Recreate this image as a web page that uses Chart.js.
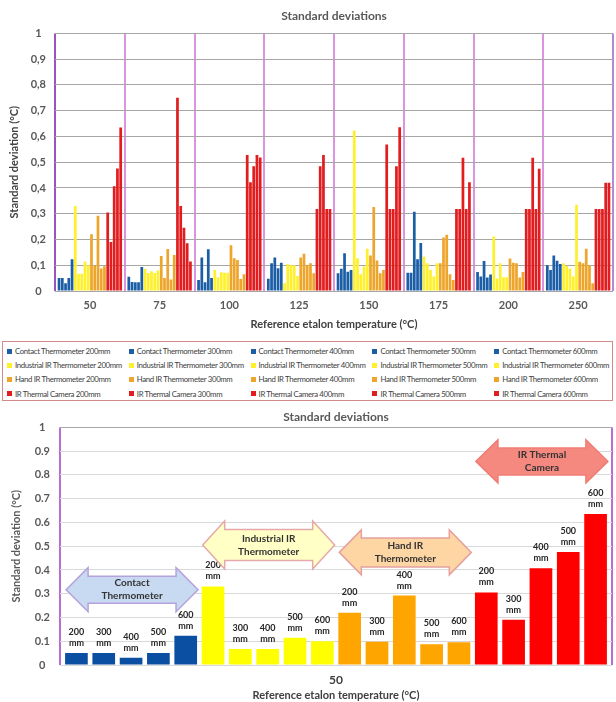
<!DOCTYPE html>
<html>
<head>
<meta charset="utf-8">
<script src="https://cdn.jsdelivr.net/npm/chart.js@4"></script>
<style>
  html, body { margin:0; padding:0; background:#fff; width:616px; height:702px; overflow:hidden; }
  #top { position:absolute; left:0; top:0; }
  #bottom { position:absolute; left:0; top:405px; }
  #legend { position:absolute; left:2px; top:341px; width:611px; height:60px; border:1px solid #d48a8a;
            box-sizing:border-box; padding-top:2px; font-family:Lato, sans-serif; font-size:7.8px;
            letter-spacing:-0.35px; color:#404040; }
  .row { display:flex; height:14.2px; align-items:center; }
  .item { width:123px; padding-left:4px; white-space:nowrap; overflow:visible; box-sizing:border-box; }
  .sw { display:inline-block; width:5px; height:5px; margin-right:3px; vertical-align:middle; position:relative; top:-1px; }
</style>
</head>
<body>
<canvas id="top" width="616" height="336"></canvas>
<div id="legend"></div>
<canvas id="bottom" width="616" height="297"></canvas>
<script>
// ---------- DATA ----------
const categories = ['50', '75', '100', '125', '150', '175', '200', '250'];
const distances = ['200mm', '300mm', '400mm', '500mm', '600mm'];
const instruments = ['Contact Thermometer', 'Industrial IR Thermometer', 'Hand IR Thermometer', 'IR Thermal Camera'];

// rows: 200mm, 300mm, 400mm, 500mm, 600mm ; columns: categories
const contactThermometer = [
  [0.05, 0.055, 0.043, 0.048, 0.069, 0.071, 0.074, 0.10],
  [0.05, 0.035, 0.13, 0.108, 0.086, 0.071, 0.056, 0.082],
  [0.03, 0.034, 0.034, 0.13, 0.147, 0.308, 0.116, 0.138],
  [0.05, 0.034, 0.162, 0.088, 0.075, 0.123, 0.052, 0.117],
  [0.123, 0.093, 0.05, 0.11, 0.082, 0.186, 0.064, 0.105]
];
const industrialIR = [
  [0.33, 0.086, 0.082, 0.03, 0.623, 0.134, 0.212, 0.108],
  [0.067, 0.07, 0.053, 0.105, 0.127, 0.108, 0.049, 0.098],
  [0.067, 0.077, 0.073, 0.10, 0.065, 0.082, 0.108, 0.086],
  [0.115, 0.07, 0.071, 0.10, 0.095, 0.056, 0.053, 0.056],
  [0.10, 0.08, 0.071, 0.058, 0.164, 0.108, 0.053, 0.335]
];
const handIR = [
  [0.22, 0.136, 0.178, 0.13, 0.138, 0.108, 0.126, 0.114],
  [0.098, 0.05, 0.127, 0.145, 0.326, 0.208, 0.11, 0.108],
  [0.292, 0.163, 0.12, 0.10, 0.118, 0.218, 0.108, 0.164],
  [0.087, 0.045, 0.047, 0.108, 0.069, 0.065, 0.052, 0.10],
  [0.096, 0.14, 0.065, 0.069, 0.082, 0.043, 0.074, 0.03]
];
const irThermalCamera = [
  [0.305, 0.75, 0.528, 0.318, 0.569, 0.318, 0.318, 0.318],
  [0.19, 0.33, 0.422, 0.484, 0.318, 0.318, 0.318, 0.318],
  [0.407, 0.246, 0.484, 0.528, 0.318, 0.517, 0.517, 0.318],
  [0.476, 0.185, 0.528, 0.318, 0.484, 0.318, 0.318, 0.42],
  [0.635, 0.115, 0.518, 0.318, 0.636, 0.422, 0.475, 0.42]
];
const groupNames = ['Contact\nThermometer', 'Industrial IR\nThermometer', 'Hand IR\nThermometer', 'IR Thermal\nCamera'];

// ---------- STYLE ----------
const FONT = 'Lato, "Open Sans", sans-serif';
const topColors = ['#1b5ea6', '#fff02e', '#eda52c', '#e11d1f'];
const bottomColors = ['#0b4fa3', '#ffff00', '#ffa500', '#ff0000'];
const seriesByInstrument = [contactThermometer, industrialIR, handIR, irThermalCamera];

// legend (HTML, from the series names)
const legendEl = document.getElementById('legend');
instruments.forEach((name, g) => {
  const row = document.createElement('div'); row.className = 'row';
  distances.forEach(d => {
    const it = document.createElement('div'); it.className = 'item';
    it.innerHTML = '<span class="sw" style="background:' + topColors[g] + '"></span>' + name + ' ' + d;
    row.appendChild(it);
  });
  legendEl.appendChild(row);
});

const titleToPlot = {
  id: 'titleToPlot',
  afterLayout(chart) {
    if (chart.titleBlock) {
      chart.titleBlock.left = chart.chartArea.left;
      chart.titleBlock.right = chart.chartArea.right;
    }
  }
};

// ---------- TOP CHART ----------
const topDatasets = [];
instruments.forEach((name, g) => distances.forEach((d, k) => {
  topDatasets.push({ label: name + ' ' + d, data: seriesByInstrument[g][k], backgroundColor: topColors[g], borderWidth: 0 });
}));

new Chart(document.getElementById('top'), {
  type: 'bar',
  data: { labels: categories, datasets: topDatasets },
  plugins: [titleToPlot],
  options: {
    responsive: false, animation: false,
    layout: { padding: { left: 0, right: 3, top: 0, bottom: 0 } },
    datasets: { bar: { categoryPercentage: 0.93, barPercentage: 0.84 } },
    plugins: {
      legend: { display: false }, tooltip: { enabled: false },
      title: { display: true, text: 'Standard deviations', color: '#595959',
               font: { family: FONT, size: 12, weight: 'bold' }, padding: { top: 9, bottom: 10 } }
    },
    scales: {
      x: {
        grid: { offset: true, drawTicks: false, lineWidth: 2,
                color: ctx => ctx.tick === undefined ? '#b48ad6' : (ctx.index === 0 ? '#9b52c2' : '#dc93e0') },
        border: { display: false },
        ticks: { color: '#595959', font: { family: FONT, size: 11, weight: 'bold' }, padding: 8 },
        title: { display: true, text: 'Reference etalon temperature (°C)', color: '#404040',
                 font: { family: FONT, size: 11, weight: 'bold' }, padding: { top: 0, bottom: 5 } },
        afterFit: s => { s.height = 45; }
      },
      y: {
        min: 0, max: 1,
        grid: { color: '#a6a6a6', drawTicks: false, lineWidth: 1 },
        border: { display: false },
        ticks: { stepSize: 0.1, crossAlign: 'center', padding: 9, color: '#595959',
                 font: { family: FONT, size: 11, weight: 'bold' },
                 callback: v => (v === 0 ? '0' : v === 1 ? '1' : v.toFixed(1).replace('.', ',')) },
        title: { display: true, text: 'Standard deviation (°C)', color: '#404040',
                 font: { family: FONT, size: 11, weight: 'bold' }, padding: { top: 8, bottom: 0 } },
        afterFit: s => { s.width = 55; }
      }
    }
  }
});

// ---------- BOTTOM CHART ----------
const bottomDatasets = [];
instruments.forEach((name, g) => distances.forEach((d, k) => {
  bottomDatasets.push({ label: name + ' ' + d, data: [seriesByInstrument[g][k][0]], backgroundColor: bottomColors[g],
                        borderWidth: 0, distance: d, group: g });
}));

const arrowStyles = [
  { yValue: 0.317, fill: '#c8daf1', stroke: '#b5a2da', headH: 44, shaftH: 27 },
  { yValue: 0.505, fill: '#ffffc6', stroke: '#e6a9a9', headH: 48, shaftH: 31 },
  { yValue: 0.474, fill: '#fdd6a4', stroke: '#e6a0a0', headH: 45, shaftH: 29 },
  { yValue: 0.857, fill: '#f58980', stroke: '#f07d74', headH: 43, shaftH: 27 }
];

const barLabels = {
  id: 'barLabels',
  afterDatasetsDraw(chart) {
    const ctx = chart.ctx;
    ctx.save();
    ctx.fillStyle = '#262626';
    ctx.font = 'bold 9px ' + FONT;
    ctx.textAlign = 'center';
    ctx.textBaseline = 'middle';
    chart.data.datasets.forEach((ds, i) => {
      const bar = chart.getDatasetMeta(i).data[0];
      const num = ds.distance.replace('mm', '');
      ctx.fillText(num, bar.x, bar.y - 21);
      ctx.fillText('mm', bar.x, bar.y - 10);
    });
    ctx.restore();
  }
};

const groupArrows = {
  id: 'groupArrows',
  afterDatasetsDraw(chart) {
    const ctx = chart.ctx;
    const y = chart.scales.y;
    arrowStyles.forEach((st, g) => {
      const first = chart.getDatasetMeta(g * 5).data[0];
      const last = chart.getDatasetMeta(g * 5 + 4).data[0];
      const x1 = first.x - first.width / 2 + 1;
      const x2 = last.x + last.width / 2 + 1;
      const yc = y.getPixelForValue(st.yValue);
      const hl = 22, hh = st.headH / 2, sh = st.shaftH / 2;
      ctx.save();
      ctx.beginPath();
      ctx.moveTo(x1, yc);
      ctx.lineTo(x1 + hl, yc - hh);
      ctx.lineTo(x1 + hl, yc - sh);
      ctx.lineTo(x2 - hl, yc - sh);
      ctx.lineTo(x2 - hl, yc - hh);
      ctx.lineTo(x2, yc);
      ctx.lineTo(x2 - hl, yc + hh);
      ctx.lineTo(x2 - hl, yc + sh);
      ctx.lineTo(x1 + hl, yc + sh);
      ctx.lineTo(x1 + hl, yc + hh);
      ctx.closePath();
      ctx.fillStyle = st.fill;
      ctx.fill();
      ctx.lineWidth = 1.5;
      ctx.strokeStyle = st.stroke;
      ctx.stroke();
      ctx.fillStyle = '#333333';
      ctx.font = 'bold 10px ' + FONT;
      ctx.textAlign = 'center';
      ctx.textBaseline = 'middle';
      const lines = groupNames[g].split('\n');
      const xm = (x1 + x2) / 2;
      ctx.fillText(lines[0], xm, yc - 6.5);
      ctx.fillText(lines[1], xm, yc + 6.5);
      ctx.restore();
    });
  }
};

new Chart(document.getElementById('bottom'), {
  type: 'bar',
  data: { labels: [categories[0]], datasets: bottomDatasets },
  plugins: [titleToPlot, barLabels, groupArrows],
  options: {
    responsive: false, animation: false,
    layout: { padding: { left: 0, right: 4, top: 0, bottom: 0 } },
    datasets: { bar: { categoryPercentage: 0.99, barPercentage: 0.83 } },
    plugins: {
      legend: { display: false }, tooltip: { enabled: false },
      title: { display: true, text: 'Standard deviations', color: '#595959',
               font: { family: FONT, size: 12, weight: 'bold' }, padding: { top: 5, bottom: 3 } }
    },
    scales: {
      x: {
        grid: { offset: true, drawTicks: false, lineWidth: 2, color: '#b66fd3' },
        border: { display: false },
        ticks: { color: '#404040', font: { family: FONT, size: 12, weight: 'bold' }, padding: 8 },
        title: { display: true, text: 'Reference etalon temperature (°C)', color: '#404040',
                 font: { family: FONT, size: 11, weight: 'bold' }, padding: { top: 0, bottom: 0 } },
        afterFit: s => { s.height = 37; }
      },
      y: {
        min: 0, max: 1,
        grid: { color: ctx => ctx.tick && ctx.tick.value === 1 ? '#a6a6a6' : '#d9d9d9', drawTicks: false, lineWidth: 1 },
        border: { display: false },
        ticks: { stepSize: 0.1, crossAlign: 'center', padding: 10, color: '#595959',
                 font: { family: FONT, size: 11, weight: 'bold' },
                 callback: v => (v === 0 ? '0' : v === 1 ? '1' : v.toFixed(1)) },
        title: { display: true, text: 'Standard deviation (°C)', color: '#595959',
                 font: { family: FONT, size: 11, weight: 'bold' }, padding: { top: 10, bottom: 0 } },
        afterFit: s => { s.width = 60; }
      }
    }
  }
});
</script>
</body>
</html>
